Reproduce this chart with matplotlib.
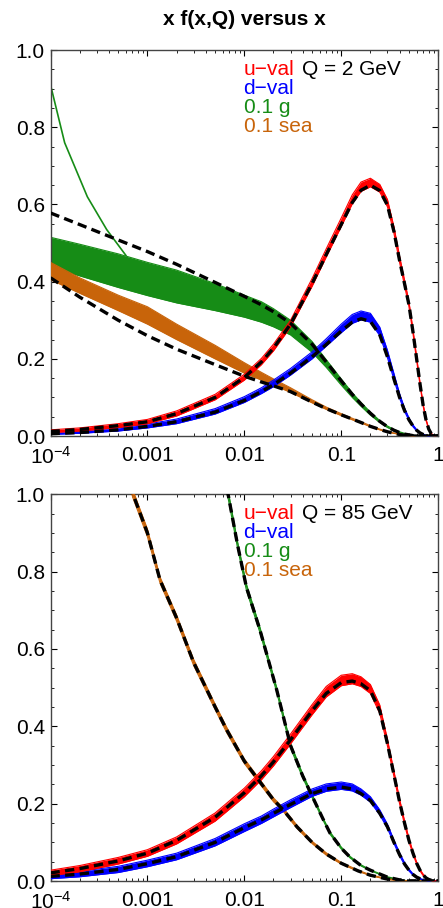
import matplotlib
matplotlib.use("Agg")
import matplotlib.pyplot as plt
from matplotlib.ticker import FixedLocator, FixedFormatter, NullFormatter

plt.rcParams['font.family'] = ['Liberation Sans', 'DejaVu Sans']
plt.rcParams['mathtext.fontset'] = 'custom'
plt.rcParams['mathtext.rm'] = 'Liberation Sans'
plt.rcParams['mathtext.it'] = 'Liberation Sans'

# ---- data ----
x_grid = [1e-4, 2e-4, 5e-4, 1e-3, 2e-3, 5e-3, 0.01, 0.015, 0.02, 0.03, 0.05, 0.07,
          0.1, 0.13, 0.16, 0.2, 0.25, 0.3, 0.35, 0.4, 0.45, 0.5, 0.55, 0.6, 0.65,
          0.7, 0.75, 0.8, 0.85, 0.9, 0.95, 1.0]

# Q = 2 GeV
uval2_alt = [0.012, 0.017, 0.027, 0.037, 0.058, 0.100, 0.152, 0.192, 0.228, 0.290, 0.395, 0.470,
             0.548, 0.605, 0.637, 0.650, 0.636, 0.598, 0.530, 0.455, 0.395, 0.340, 0.270, 0.200, 0.135,
             0.080, 0.042, 0.018, 0.006, 0.0015, 0.0, 0.0]
uval2_lo = [0.009, 0.013, 0.022, 0.032, 0.052, 0.094, 0.145, 0.185, 0.221, 0.283, 0.388, 0.464,
            0.543, 0.602, 0.634, 0.646, 0.632, 0.594, 0.525, 0.450, 0.390, 0.335, 0.266, 0.196, 0.132,
            0.078, 0.040, 0.017, 0.005, 0.001, 0.0, 0.0]
uval2_hi = [0.016, 0.021, 0.032, 0.043, 0.065, 0.108, 0.160, 0.201, 0.238, 0.300, 0.408, 0.485,
            0.565, 0.625, 0.658, 0.668, 0.652, 0.613, 0.542, 0.466, 0.404, 0.348, 0.276, 0.205, 0.139,
            0.083, 0.044, 0.020, 0.007, 0.002, 0.0, 0.0]

dval2_alt = [0.006, 0.009, 0.016, 0.025, 0.037, 0.062, 0.092, 0.115, 0.133, 0.163, 0.205, 0.237,
             0.272, 0.295, 0.304, 0.297, 0.262, 0.205, 0.148, 0.100, 0.066, 0.042, 0.026, 0.015, 0.008,
             0.004, 0.002, 0.001, 0.0, 0.0, 0.0, 0.0]
dval2_lo = [0.004, 0.007, 0.013, 0.021, 0.032, 0.057, 0.087, 0.110, 0.128, 0.158, 0.200, 0.233,
            0.268, 0.292, 0.301, 0.295, 0.260, 0.203, 0.146, 0.098, 0.064, 0.040, 0.024, 0.013, 0.007,
            0.003, 0.001, 0.0, 0.0, 0.0, 0.0, 0.0]
dval2_hi = [0.009, 0.013, 0.021, 0.031, 0.044, 0.071, 0.102, 0.125, 0.145, 0.175, 0.218, 0.252,
            0.290, 0.315, 0.324, 0.318, 0.282, 0.222, 0.162, 0.110, 0.073, 0.047, 0.029, 0.017, 0.009,
            0.005, 0.002, 0.001, 0.0, 0.0, 0.0, 0.0]

glu2_alt = [0.578, 0.548, 0.508, 0.478, 0.445, 0.398, 0.362, 0.340, 0.322, 0.292, 0.238, 0.192,
            0.143, 0.108, 0.083, 0.059, 0.038, 0.024, 0.015, 0.009, 0.005, 0.003, 0.001, 0.0, 0.0,
            0.0, 0.0, 0.0, 0.0, 0.0, 0.0, 0.0]
glu2_lo = [0.438, 0.415, 0.385, 0.364, 0.345, 0.325, 0.308, 0.295, 0.283, 0.262, 0.217, 0.178,
           0.132, 0.100, 0.077, 0.054, 0.035, 0.022, 0.014, 0.008, 0.005, 0.002, 0.001, 0.0, 0.0,
           0.0, 0.0, 0.0, 0.0, 0.0, 0.0, 0.0]
glu2_hi = [0.515, 0.497, 0.472, 0.450, 0.430, 0.395, 0.365, 0.348, 0.330, 0.300, 0.245, 0.198,
           0.148, 0.112, 0.087, 0.062, 0.040, 0.026, 0.017, 0.011, 0.007, 0.004, 0.002, 0.001, 0.0,
           0.0, 0.0, 0.0, 0.0, 0.0, 0.0, 0.0]
# one member of the gluon set that rises at small x
glu2_out_x = [1e-4, 1.4e-4, 2.4e-4, 3.8e-4, 6e-4]
glu2_out_y = [0.91, 0.76, 0.62, 0.535, 0.468]

sea2_alt = [0.410, 0.360, 0.300, 0.260, 0.225, 0.185, 0.155, 0.140, 0.130, 0.115, 0.088, 0.071,
            0.055, 0.044, 0.035, 0.025, 0.017, 0.011, 0.007, 0.004, 0.002, 0.001, 0.0, 0.0, 0.0,
            0.0, 0.0, 0.0, 0.0, 0.0, 0.0, 0.0]
sea2_lo = [0.405, 0.370, 0.325, 0.290, 0.250, 0.200, 0.163, 0.145, 0.132, 0.113, 0.086, 0.069,
           0.053, 0.042, 0.034, 0.024, 0.016, 0.010, 0.007, 0.004, 0.002, 0.001, 0.0, 0.0, 0.0,
           0.0, 0.0, 0.0, 0.0, 0.0, 0.0, 0.0]
sea2_hi = [0.450, 0.410, 0.365, 0.335, 0.290, 0.235, 0.190, 0.165, 0.148, 0.125, 0.094, 0.075,
           0.058, 0.046, 0.037, 0.027, 0.018, 0.012, 0.008, 0.005, 0.003, 0.002, 0.001, 0.0, 0.0,
           0.0, 0.0, 0.0, 0.0, 0.0, 0.0, 0.0]

# Q = 85 GeV
uval85_alt = [0.021, 0.032, 0.052, 0.072, 0.105, 0.165, 0.228, 0.272, 0.308, 0.365, 0.440, 0.485,
              0.513, 0.517, 0.510, 0.492, 0.440, 0.355, 0.275, 0.205, 0.150, 0.105, 0.072, 0.046, 0.028,
              0.016, 0.008, 0.004, 0.002, 0.001, 0.0, 0.0]
uval85_lo = [0.014, 0.024, 0.044, 0.064, 0.096, 0.155, 0.218, 0.262, 0.298, 0.355, 0.430, 0.476,
             0.505, 0.510, 0.503, 0.485, 0.433, 0.349, 0.270, 0.200, 0.146, 0.102, 0.069, 0.044, 0.026,
             0.014, 0.007, 0.003, 0.001, 0.0, 0.0, 0.0]
uval85_hi = [0.028, 0.040, 0.061, 0.081, 0.114, 0.176, 0.240, 0.285, 0.322, 0.380, 0.456, 0.503,
             0.532, 0.536, 0.528, 0.508, 0.455, 0.366, 0.284, 0.212, 0.156, 0.110, 0.076, 0.049, 0.030,
             0.018, 0.009, 0.005, 0.002, 0.001, 0.0, 0.0]

dval85_alt = [0.012, 0.018, 0.030, 0.045, 0.063, 0.100, 0.138, 0.158, 0.175, 0.198, 0.226, 0.238,
              0.243, 0.238, 0.226, 0.208, 0.175, 0.140, 0.100, 0.068, 0.044, 0.028, 0.017, 0.010, 0.006,
              0.003, 0.001, 0.0, 0.0, 0.0, 0.0, 0.0]
dval85_lo = [0.006, 0.011, 0.022, 0.037, 0.055, 0.091, 0.128, 0.149, 0.166, 0.190, 0.219, 0.232,
             0.237, 0.233, 0.222, 0.204, 0.171, 0.136, 0.097, 0.065, 0.042, 0.026, 0.015, 0.008, 0.005,
             0.002, 0.001, 0.0, 0.0, 0.0, 0.0, 0.0]
dval85_hi = [0.018, 0.025, 0.038, 0.054, 0.072, 0.110, 0.148, 0.168, 0.186, 0.210, 0.238, 0.251,
             0.256, 0.251, 0.238, 0.218, 0.184, 0.147, 0.106, 0.073, 0.048, 0.031, 0.019, 0.012, 0.007,
             0.004, 0.002, 0.001, 0.0, 0.0, 0.0, 0.0]

sea85_x = [6e-4, 7.1e-4, 1e-3, 1.35e-3, 2e-3, 3e-3, 5e-3, 0.0066, 0.01, 0.0123, 0.02, 0.025,
           0.035, 0.05, 0.07, 0.1, 0.15, 0.2, 0.3, 0.4, 0.5, 1.0]
sea85_alt = [1.06, 1.00, 0.90, 0.778, 0.680, 0.565, 0.450, 0.390, 0.310, 0.280, 0.210, 0.185,
             0.140, 0.100, 0.070, 0.046, 0.026, 0.015, 0.005, 0.001, 0.0, 0.0]
sea85_lo = [1.05, 0.99, 0.89, 0.770, 0.672, 0.557, 0.443, 0.383, 0.304, 0.274, 0.205, 0.181,
            0.136, 0.097, 0.067, 0.044, 0.025, 0.014, 0.004, 0.001, 0.0, 0.0]
sea85_hi = [1.07, 1.01, 0.91, 0.786, 0.688, 0.573, 0.457, 0.397, 0.316, 0.286, 0.215, 0.190,
            0.144, 0.103, 0.073, 0.048, 0.028, 0.016, 0.006, 0.002, 0.0, 0.0]

glu85_x = [6e-3, 6.8e-3, 0.0085, 0.0105, 0.0145, 0.0216, 0.03, 0.04, 0.05, 0.065, 0.0766,
           0.1, 0.123, 0.16, 0.2, 0.3, 0.4, 0.5, 1.0]
glu85_alt = [1.05, 1.00, 0.870, 0.760, 0.649, 0.494, 0.350, 0.272, 0.220, 0.160, 0.124,
             0.085, 0.062, 0.040, 0.028, 0.010, 0.003, 0.0, 0.0]
glu85_lo = [1.04, 0.99, 0.862, 0.752, 0.642, 0.488, 0.344, 0.267, 0.216, 0.157, 0.121,
            0.083, 0.060, 0.039, 0.027, 0.009, 0.002, 0.0, 0.0]
glu85_hi = [1.06, 1.01, 0.878, 0.768, 0.656, 0.500, 0.356, 0.277, 0.224, 0.163, 0.127,
            0.088, 0.064, 0.042, 0.029, 0.011, 0.004, 0.0, 0.0]

x_ticks = [1e-4, 1e-3, 1e-2, 1e-1, 1.0]
x_ticklabels = ['$10^{-4}$', '0.001', '0.01', '0.1', '1']
y_ticks = [0.0, 0.2, 0.4, 0.6, 0.8, 1.0]

C_U = '#ff0000'
C_D = '#0000ff'
C_G = '#168c16'
C_S = '#c8640a'


def band(ax, x, lo, hi, col, z):
    ax.fill_between(x, lo, hi, color=col, lw=0, zorder=z)
    ax.plot(x, lo, color=col, lw=0.8, zorder=z)
    ax.plot(x, hi, color=col, lw=0.8, zorder=z)


def dashed(ax, x, y):
    ax.plot(x, y, color='k', lw=2.4, ls=(0, (2.8, 1.6)), zorder=10)


def style_axes(ax):
    ax.set_xscale('log')
    ax.set_xlim(1e-4, 1.0)
    ax.set_ylim(0, 1.0)
    ax.xaxis.set_major_locator(FixedLocator(x_ticks))
    ax.xaxis.set_major_formatter(FixedFormatter(x_ticklabels))
    ax.xaxis.set_minor_formatter(NullFormatter())
    ax.yaxis.set_major_locator(FixedLocator(y_ticks))
    ax.yaxis.set_minor_locator(FixedLocator([i * 0.05 for i in range(21)]))
    ax.yaxis.set_major_formatter(FixedFormatter(['%.1f' % v for v in y_ticks]))
    ax.tick_params(which='both', direction='in', top=True, right=True,
                   labelsize=15, colors='k')
    ax.tick_params(axis='y', pad=4)
    ax.tick_params(axis='x', pad=7)
    ax.tick_params(which='major', length=4.5, width=0.8)
    ax.tick_params(which='minor', length=2.5, width=0.6)
    for s in ax.spines.values():
        s.set_color('#444444')
        s.set_linewidth(1.0)


def legend_text(ax, qlabel):
    fs = 15
    ax.text(0.498, 0.950, 'u\u2212val', color=C_U, fontsize=fs, transform=ax.transAxes, va='center')
    ax.text(0.650, 0.950, qlabel, color='k', fontsize=fs, transform=ax.transAxes, va='center')
    ax.text(0.498, 0.901, 'd\u2212val', color=C_D, fontsize=fs, transform=ax.transAxes, va='center')
    ax.text(0.498, 0.852, '0.1 g', color=C_G, fontsize=fs, transform=ax.transAxes, va='center')
    ax.text(0.498, 0.802, '0.1 sea', color=C_S, fontsize=fs, transform=ax.transAxes, va='center')


fig = plt.figure(figsize=(4.43, 9.08), dpi=100)
ax1 = fig.add_axes([0.114, 0.5198, 0.875, 0.425])
ax2 = fig.add_axes([0.114, 0.0297, 0.875, 0.426])

# top panel, Q = 2 GeV
band(ax1, x_grid, glu2_lo, glu2_hi, C_G, 2)
ax1.plot(glu2_out_x, glu2_out_y, color=C_G, lw=1.2, zorder=2)
band(ax1, x_grid, sea2_lo, sea2_hi, C_S, 3)
band(ax1, x_grid, dval2_lo, dval2_hi, C_D, 4)
band(ax1, x_grid, uval2_lo, uval2_hi, C_U, 5)
for yy in (glu2_alt, sea2_alt, dval2_alt, uval2_alt):
    dashed(ax1, x_grid, yy)
style_axes(ax1)
legend_text(ax1, 'Q = 2 GeV')
fig.text(0.551, 0.978, 'x f(x,Q) versus x', fontsize=15, fontweight='bold',
         ha='center', va='center')

# bottom panel, Q = 85 GeV
band(ax2, glu85_x, glu85_lo, glu85_hi, C_G, 2)
band(ax2, sea85_x, sea85_lo, sea85_hi, C_S, 3)
band(ax2, x_grid, dval85_lo, dval85_hi, C_D, 4)
band(ax2, x_grid, uval85_lo, uval85_hi, C_U, 5)
dashed(ax2, glu85_x, glu85_alt)
dashed(ax2, sea85_x, sea85_alt)
dashed(ax2, x_grid, dval85_alt)
dashed(ax2, x_grid, uval85_alt)
style_axes(ax2)
legend_text(ax2, 'Q = 85 GeV')

fig.savefig('out.png', dpi=100)
